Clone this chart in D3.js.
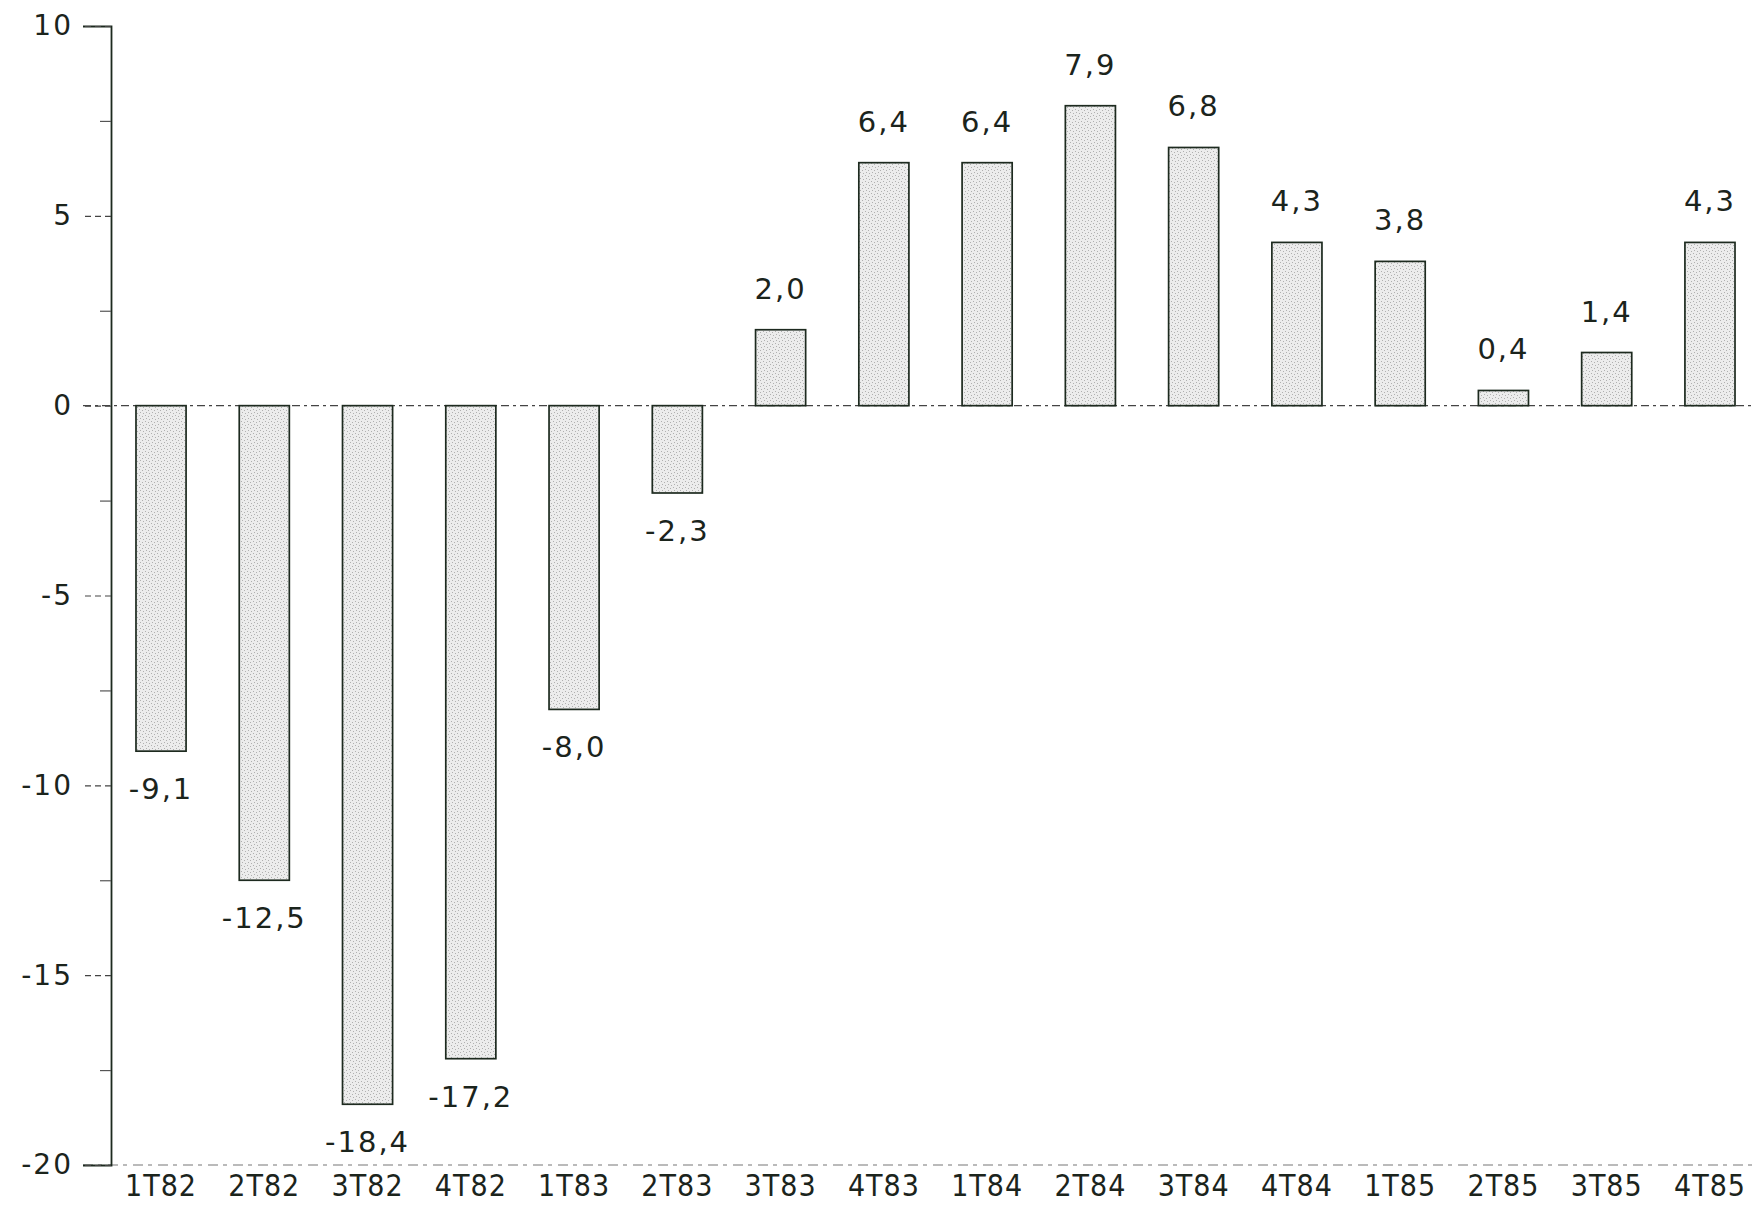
<!DOCTYPE html>
<html>
<head>
<meta charset="utf-8">
<script src="https://cdn.jsdelivr.net/npm/d3@7/dist/d3.min.js"></script>
<style>
  html, body { margin: 0; padding: 0; background: #fff; }
  svg { display: block; }
  text { font-family: "DejaVu Sans", "Liberation Sans", sans-serif; fill: #1b241c; }
</style>
</head>
<body>
<svg id="chart" width="1754" height="1208"></svg>
<script>
// Quarterly change, 1982–1985
const quarters = ["1T82", "2T82", "3T82", "4T82", "1T83", "2T83", "3T83", "4T83",
                  "1T84", "2T84", "3T84", "4T84", "1T85", "2T85", "3T85", "4T85"];
const values = [-9.1, -12.5, -18.4, -17.2, -8.0, -2.3, 2.0, 6.4,
                6.4, 7.9, 6.8, 4.3, 3.8, 0.4, 1.4, 4.3];
const majorTicks = [10, 5, 0, -5, -10, -15, -20];
const minorTicks = [7.5, 2.5, -2.5, -7.5, -12.5, -17.5];

const W = 1754, H = 1208;
const axisX = 111;
const svg = d3.select("#chart");

const locale = d3.formatLocale({ decimal: ",", thousands: ".", grouping: [3], currency: ["", ""], minus: "-" });
const fmtValue = locale.format(".1f");
const fmtTick = locale.format("d");

const y = d3.scaleLinear().domain([-20, 10]).range([1165, 26]);
const x = d3.scaleBand().domain(quarters).range([109.4, 1761.6])
  .paddingInner(0.515).paddingOuter(0.2575);

// stippled fill for the bars
const defs = svg.append("defs");
const pat = defs.append("pattern").attr("id", "stipple")
  .attr("patternUnits", "userSpaceOnUse").attr("width", 6).attr("height", 6);
pat.append("rect").attr("width", 6).attr("height", 6).attr("fill", "#ececec");
[[1, 1], [4, 2], [2, 4], [5, 5]].forEach(([cx, cy]) =>
  pat.append("rect").attr("x", cx).attr("y", cy).attr("width", 1).attr("height", 1).attr("fill", "#b0b0b0"));

// baseline lines (zero and bottom), dashed
svg.append("line")
  .attr("x1", 83).attr("x2", W).attr("y1", y(0)).attr("y2", y(0))
  .attr("stroke", "#444").attr("stroke-width", 1.3).attr("stroke-dasharray", "8,4,3,4");
svg.append("line")
  .attr("x1", 83).attr("x2", W).attr("y1", y(-20)).attr("y2", y(-20))
  .attr("stroke", "#777").attr("stroke-width", 1.2).attr("stroke-dasharray", "10,5,4,6");

// bars
svg.append("g").selectAll("rect").data(values).join("rect")
  .attr("x", (d, i) => x(quarters[i]))
  .attr("width", x.bandwidth())
  .attr("y", d => y(Math.max(0, d)))
  .attr("height", d => Math.abs(y(d) - y(0)))
  .attr("fill", "url(#stipple)")
  .attr("stroke", "#1d2a1f").attr("stroke-width", 1.7);

// value labels
svg.append("g").selectAll("text").data(values).join("text")
  .attr("x", (d, i) => x(quarters[i]) + x.bandwidth() / 2)
  .attr("y", d => d >= 0 ? y(d) - 31 : y(d) + 48)
  .attr("text-anchor", "middle")
  .attr("font-size", 29)
  .attr("letter-spacing", 2)
  .text(d => fmtValue(d));

// y axis: major ticks with labels
const gy = svg.append("g").attr("transform", `translate(${axisX},0)`)
  .call(d3.axisLeft(y).tickValues(majorTicks).tickSize(28).tickPadding(10).tickFormat(fmtTick));
gy.select(".domain").attr("stroke", "#1d2a1f").attr("stroke-width", 1.8);
gy.selectAll(".tick line").attr("stroke", "#444").attr("stroke-width", 1.2).attr("stroke-dasharray", "6,4");
gy.selectAll(".tick text").attr("font-size", 28).attr("letter-spacing", 2)
  .style("font-family", "DejaVu Sans, sans-serif").attr("fill", "#1b241c");

// y axis: minor ticks
const gm = svg.append("g").attr("transform", `translate(${axisX},0)`)
  .call(d3.axisLeft(y).tickValues(minorTicks).tickSize(11).tickFormat(""));
gm.select(".domain").remove();
gm.selectAll(".tick line").attr("stroke", "#555").attr("stroke-width", 1.2);

// x axis labels
const gx = svg.append("g").attr("transform", `translate(0,${y(-20)})`)
  .call(d3.axisBottom(x).tickSize(0).tickPadding(10));
gx.select(".domain").remove();
gx.selectAll(".tick text").attr("font-size", 30).attr("letter-spacing", 1)
  .style("font-family", "'DejaVu Sans Condensed', 'DejaVu Sans', sans-serif")
  .style("font-stretch", "condensed")
  .attr("fill", "#1b241c");
</script>
</body>
</html>
